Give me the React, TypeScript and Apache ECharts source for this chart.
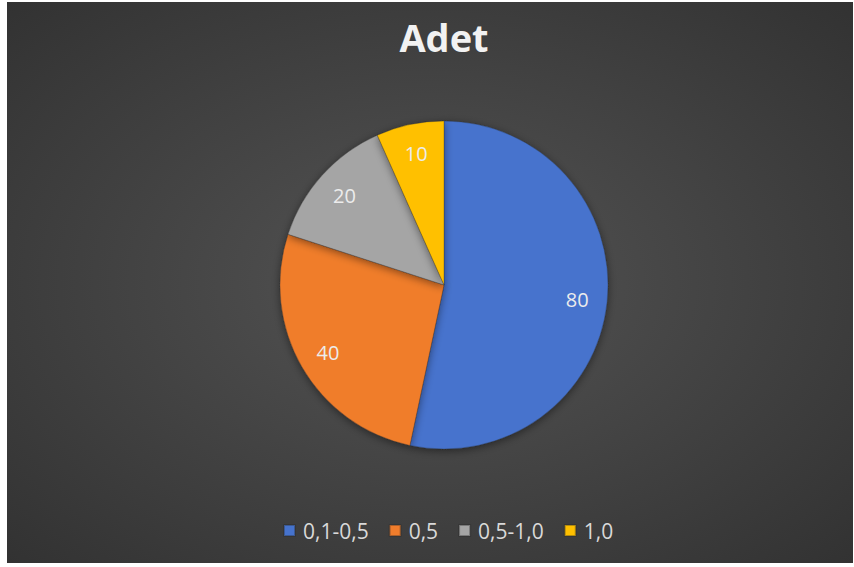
import React, { useEffect, useRef } from "react";
import * as echarts from "echarts";

const categories = ["0,1-0,5", "0,5", "0,5-1,0", "1,0"];
const values = [80, 40, 20, 10];
const colors = ["#4673CD", "#F07D2C", "#A5A5A5", "#FFC000"];
const titleText = "Adet";

export default function App() {
  const ref = useRef<HTMLDivElement>(null);
  useEffect(() => {
    if (!ref.current) return;
    const chart = echarts.init(ref.current, undefined, { renderer: "svg" });
    const data = categories.map((name, i) => ({
      name,
      value: values[i],
      itemStyle: { color: colors[i] },
    }));
    chart.setOption({
      animation: false,
      backgroundColor: {
        type: "radial",
        x: 0.5,
        y: 0.5,
        r: 0.75,
        colorStops: [
          { offset: 0, color: "#545454" },
          { offset: 1, color: "#303030" },
        ],
      },
      graphic: [
        {
          type: "text",
          x: 437,
          y: 16,
          style: {
            text: titleText,
            align: "center",
            verticalAlign: "top",
            fill: "#f2f2f2",
            fontSize: 38,
            fontWeight: "bold",
            fontFamily: "Open Sans",
          },
        },
      ],
      legend: {
        bottom: 17,
        left: 271,
        itemWidth: 11,
        itemHeight: 11,
        itemGap: 20,
        icon: "rect",
        data: categories,
        textStyle: {
          color: "#d9d9d9",
          fontSize: 21,
          fontFamily: "Open Sans",
          padding: [0, 0, 0, 3],
        },
      },
      series: [
        {
          type: "pie",
          center: [437, 283],
          radius: [0, 164],
          startAngle: 90,
          clockwise: true,
          silent: true,
          label: { show: false },
          labelLine: { show: false },
          itemStyle: {
            borderColor: "rgba(40,40,40,0.35)",
            borderWidth: 0.8,
            shadowBlur: 8,
            shadowColor: "rgba(0,0,0,0.45)",
            shadowOffsetY: 2,
          },
          emphasis: { disabled: true },
          data,
        },
        {
          type: "pie",
          center: [437, 283],
          radius: [98, 164],
          startAngle: 90,
          clockwise: true,
          silent: true,
          legendHoverLink: false,
          itemStyle: { color: "rgba(0,0,0,0)", borderWidth: 0 },
          label: {
            show: true,
            position: "inside",
            formatter: "{c}",
            color: "#ececec",
            fontSize: 20,
            fontFamily: "Open Sans",
          },
          labelLine: { show: false },
          emphasis: { disabled: true },
          data: categories.map((name, i) => ({ name, value: values[i] })),
        },
      ],
    });
    return () => chart.dispose();
  }, []);
  return (
    <div
      ref={ref}
      style={{ position: "absolute", left: 7, top: 2, width: 846, height: 561 }}
    />
  );
}
